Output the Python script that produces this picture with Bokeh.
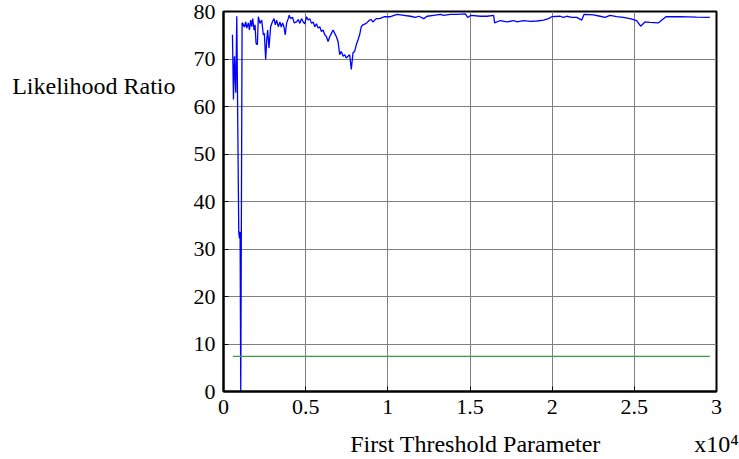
from bokeh.plotting import figure
from bokeh.models import Range1d, FixedTicker, LinearAxis
from bokeh.embed import file_html
from bokeh.resources import INLINE

# ---- data ----
lr_x = [545, 606, 667, 747, 808, 929, 970, 1010, 1050, 1131,
        1172, 1273, 1354, 1414, 1515, 1576, 1657, 1717, 1778, 1859,
        1919, 1980, 2061, 2121, 2222, 2323, 2424, 2485, 2566, 2626,
        2687, 2768, 2869, 2970, 3071, 3152, 3232, 3333, 3434, 3515,
        3596, 3677, 3758, 3838, 3939, 4000, 4081, 4202, 4303, 4444,
        4545, 4646, 4747, 4848, 4949, 5051, 5152, 5253, 5354, 5455,
        5556, 5657, 5758, 5859, 5960, 6061, 6162, 6263, 6364, 6465,
        6566, 6667, 6768, 6869, 6970, 7071, 7172, 7273, 7374, 7475,
        7576, 7677, 7778, 7879, 7980, 8081, 8182, 8283, 8384, 8485,
        8687, 8889, 8990, 9091, 9293, 9495, 9798,
        10162, 10567, 10972, 11377, 11680, 11883, 12186, 12389, 12794, 13198,
        13401, 13806, 14211, 14717, 14858, 15061, 15627, 16032, 16437, 16498,
        16842, 17247, 17652, 17854, 18259, 18664, 19069, 19474, 19777, 19980,
        20486, 20688, 20891, 21194, 21498, 21801, 21943, 22510, 22915, 23219,
        23522, 23927, 24332, 24737, 25142, 25385, 25648, 25951, 26457, 26922,
        27773, 28784, 29594]
lr_y = [75.1, 61.5, 70.6, 62.9, 79.0, 33.6, 32.2, 33.6, 0.0, 77.6,
        77.5, 76.7, 77.8, 76.5, 77.6, 76.1, 78.2, 76.8, 78.5, 76.1,
        77.2, 73.3, 73.0, 78.9, 77.5, 78.2, 75.1, 75.4, 69.9, 73.7,
        76.1, 72.3, 76.8, 77.8, 78.5, 77.2, 78.2, 76.8, 77.8, 76.7,
        77.6, 76.8, 75.1, 77.5, 78.5, 79.2, 78.5, 78.8, 77.6, 77.8,
        78.3, 77.5, 78.5, 77.8, 77.4, 78.9, 78.2, 78.5, 77.5, 77.8,
        76.8, 77.4, 76.5, 76.8, 75.8, 76.1, 75.1, 74.7, 73.7, 74.7,
        75.4, 76.1, 75.4, 74.7, 73.7, 70.9, 71.6, 70.6, 70.9, 70.2,
        70.6, 70.9, 67.8, 71.3, 71.6, 73.0, 74.0, 75.1, 76.8, 77.2,
        77.5, 78.2, 78.3, 77.8, 78.5, 78.5, 78.9,
        78.9, 79.4, 79.2, 79.0, 78.75, 79.0, 78.5, 79.0, 79.2, 79.4,
        79.2, 79.4, 79.4, 79.5, 78.75, 79.2, 79.0, 79.0, 79.2, 77.6,
        78.1, 77.8, 78.1, 77.8, 78.1, 77.9, 78.0, 78.2, 78.5, 78.9,
        79.0, 78.75, 79.0, 78.75, 78.75, 78.2, 79.4, 79.3, 79.0, 78.75,
        79.2, 78.9, 78.75, 78.5, 78.1, 76.9, 77.8, 77.7, 77.6, 78.9,
        78.9, 78.8, 78.75]
thr_x = [570, 29600]
thr_y = [7.4, 7.4]

x_ticks = [0, 5000, 10000, 15000, 20000, 25000, 30000]
x_tick_labels = ["0", "0.5", "1", "1.5", "2", "2.5", "3"]
y_ticks = [0, 10, 20, 30, 40, 50, 60, 70, 80]

x_title = "First Threshold Parameter"
x_scale_note = "x10\u2074"
y_title = "Likelihood Ratio"

FONT = "Liberation Serif"

p = figure(width=739, height=459, output_backend="svg", toolbar_location=None,
           x_range=Range1d(0, 30000), y_range=Range1d(0, 80),
           min_border_left=223, min_border_right=23,
           min_border_top=11, min_border_bottom=68)
p.background_fill_color = "white"
p.border_fill_color = "white"
p.outline_line_color = "black"
p.outline_line_width = 2

p.line(lr_x, lr_y, line_color="#0000ff", line_width=1.3)
p.line(thr_x, thr_y, line_color="#3f9a45", line_width=1.4)

for ax in (p.xaxis[0], p.yaxis[0]):
    ax.axis_line_color = "black"
    ax.axis_line_width = 2
    ax.major_tick_in = 5
    ax.major_tick_out = 0
    ax.minor_tick_in = 0
    ax.minor_tick_out = 0
    ax.major_tick_line_color = "black"
    ax.major_label_text_font = FONT
    ax.major_label_text_font_size = "22px"
    ax.major_label_text_color = "black"

p.xaxis[0].ticker = FixedTicker(ticks=x_ticks)
p.xaxis[0].major_label_overrides = {t: l for t, l in zip(x_ticks, x_tick_labels)}
p.xaxis[0].major_label_standoff = 8
p.yaxis[0].ticker = FixedTicker(ticks=y_ticks)
p.yaxis[0].major_label_standoff = 8

p.grid.grid_line_color = "#808080"
p.grid.grid_line_width = 1

title_axis = LinearAxis(ticker=FixedTicker(ticks=[15334, 30000]),
                        major_label_overrides={15334: x_title, 30000: x_scale_note},
                        axis_line_color=None, major_tick_line_color=None,
                        minor_tick_line_color=None,
                        major_label_text_font=FONT,
                        major_label_text_font_size="24px",
                        major_label_text_color="black",
                        major_label_standoff=8)
p.add_layout(title_axis, "below")

ytitle_axis = LinearAxis(ticker=FixedTicker(ticks=[64.3]),
                         major_label_overrides={64.3: y_title},
                         axis_line_color=None, major_tick_line_color=None,
                         minor_tick_line_color=None,
                         major_label_text_font=FONT,
                         major_label_text_font_size="24px",
                         major_label_text_color="black",
                         major_label_standoff=9)
p.add_layout(ytitle_axis, "left")

open("out.html", "w").write(file_html(p, INLINE))
